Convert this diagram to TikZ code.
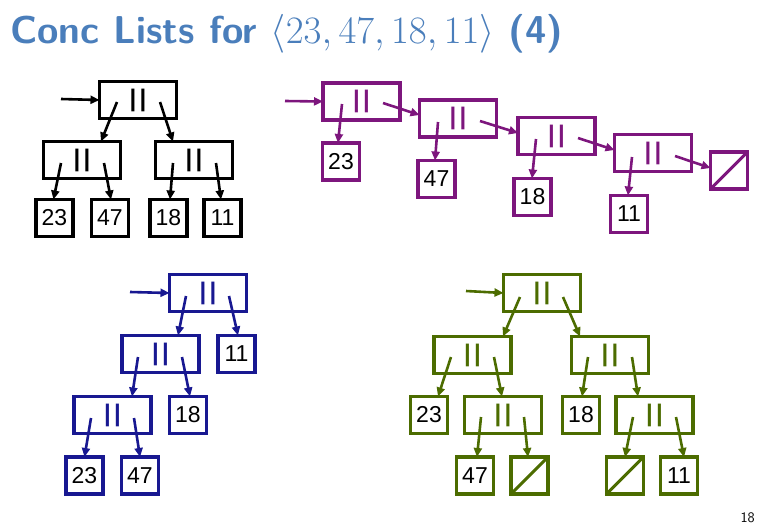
\documentclass[tikz,border=0pt]{standalone}
\usepackage{fontspec}
\newfontfamily\arial{Liberation Sans}
\usetikzlibrary{arrows.meta,calc}
\definecolor{titleblue}{RGB}{74,126,187}
\definecolor{treepurple}{RGB}{125,22,125}
\definecolor{treeblue}{RGB}{24,24,145}
\definecolor{treegreen}{RGB}{76,108,0}
\newcommand{\bars}{\raisebox{-5pt}{\bfseries|\kern3.3pt|}}
\tikzset{
  box/.style={draw, line width=3.1pt, inner sep=0pt, outer sep=0pt,
    font=\arial\fontsize{23}{23}\selectfont},
  innerbox/.style={box, minimum width=77pt, minimum height=37pt,
    font=\arial\fontsize{24}{24}\selectfont},
  leaf/.style={box, text=black, minimum width=37pt, minimum height=37pt},
  nullbox/.style={leaf, path picture={\draw[line width=3.1pt]
    (path picture bounding box.south west) -- (path picture bounding box.north east);}},
  arr/.style={line width=2.6pt, -{Triangle[length=9pt,width=8pt]}}
}
\begin{document}
\begin{tikzpicture}[x=1pt,y=-1pt]
\useasboundingbox (0,0) rectangle (757,525);

\node[anchor=base west, text=titleblue, inner sep=0pt] (title) at (10,43)
  {\scalebox{1.56}{\fontsize{24.88}{30}\selectfont\sffamily\bfseries Conc Lists for $\langle 23, 47, 18, 11\rangle$ (4)}};
\node[anchor=base east, inner sep=0pt, font=\sffamily\fontsize{14.5}{14.5}\selectfont] (pg) at (755,522) {18};

% black tree
\begin{scope}[color=black]
\node[innerbox] (B0) at (138,100) {\bars};
\node[innerbox] (B1) at (82,160) {\bars};
\node[innerbox] (B2) at (194,160) {\bars};
\node[leaf] (B23) at (54.5,218) {23};
\node[leaf] (B47) at (110,218) {47};
\node[leaf] (B18) at (168.5,218) {18};
\node[leaf] (B11) at (222.5,218) {11};
\coordinate (Bin) at (61,99);
\draw[arr] (Bin) -- (B0.west);
\draw[arr] ($(B0)+(-21,2)$) -- ($(B1.north)+(19,0)$);
\draw[arr] ($(B0)+(22,2)$) -- ($(B2.north)+(-21,0)$);
\draw[arr] ($(B1)+(-21,3)$) -- ($(B23.north)+(-1,0)$);
\draw[arr] ($(B1)+(22,3)$) -- ($(B47.north)+(1,0)$);
\draw[arr] ($(B2)+(-21,3)$) -- ($(B18.north)+(1.5,0)$);
\draw[arr] ($(B2)+(22,3)$) -- ($(B11.north)+(-1.5,0)$);
\end{scope}

% purple list
\begin{scope}[color=treepurple]
\node[innerbox] (P1) at (361.5,101.5) {\bars};
\node[innerbox] (P2) at (458,118.5) {\bars};
\node[innerbox] (P3) at (556.5,136) {\bars};
\node[innerbox] (P4) at (653,153) {\bars};
\node[nullbox] (Pn) at (729,170.5) {};
\node[leaf] (PL23) at (341,161.5) {23};
\node[leaf] (PL47) at (436.5,179) {47};
\node[leaf] (PL18) at (532.5,197) {18};
\node[leaf] (PL11) at (629,214) {11};
\coordinate (Pin) at (285,101);
\draw[arr] (Pin) -- (P1.west);
\draw[arr] ($(P1)+(21.5,1.5)$) -- ($(P2.west)+(0,-3.5)$);
\draw[arr] ($(P2)+(22,2.5)$) -- ($(P3.west)+(0,-3)$);
\draw[arr] ($(P3)+(21.5,2)$) -- ($(P4.west)+(0,-3)$);
\draw[arr] ($(P4)+(22,3)$) -- ($(Pn.west)+(0,-2.5)$);
\draw[arr] ($(P1)+(-19.5,2.5)$) -- ($(PL23.north)+(-3,0)$);
\draw[arr] ($(P2)+(-20,3.5)$) -- ($(PL47.north)+(-1.5,0)$);
\draw[arr] ($(P3)+(-20.5,3)$) -- ($(PL18.north)+(-0.5,0)$);
\draw[arr] ($(P4)+(-21,4)$) -- ($(PL11.north)+(-1,0)$);
\end{scope}

% blue tree
\begin{scope}[color=treeblue]
\node[innerbox] (U0) at (208,293) {\bars};
\node[innerbox] (U1) at (160.5,354) {\bars};
\node[innerbox] (U2) at (112.5,415) {\bars};
\node[leaf] (UL11) at (236.5,354) {11};
\node[leaf] (UL18) at (188,415) {18};
\node[leaf] (UL23) at (84.5,475.5) {23};
\node[leaf] (UL47) at (140,475.5) {47};
\coordinate (Uin) at (130,292);
\draw[arr] (Uin) -- (U0.west);
\draw[arr] ($(U0)+(-22,3)$) -- ($(U1.north)+(17.5,0)$);
\draw[arr] ($(U0)+(21,3)$) -- ($(UL11.north)+(1.5,0)$);
\draw[arr] ($(U1)+(-22.5,3)$) -- ($(U2.north)+(19.5,0)$);
\draw[arr] ($(U1)+(21.5,3)$) -- ($(UL18.north)+(2,0)$);
\draw[arr] ($(U2)+(-21.5,3)$) -- (UL23.north);
\draw[arr] ($(U2)+(21.5,3)$) -- (UL47.north);
\end{scope}

% green tree
\begin{scope}[color=treegreen]
\node[innerbox] (G0) at (542,293) {\bars};
\node[innerbox] (G1) at (472.5,355) {\bars};
\node[innerbox] (G2) at (610,355) {\bars};
\node[leaf] (GL23) at (429,415) {23};
\node[innerbox] (G3) at (503,415) {\bars};
\node[leaf] (GL18) at (581,415) {18};
\node[innerbox] (G4) at (654.5,415) {\bars};
\node[leaf] (GL47) at (475,475.5) {47};
\node[nullbox] (GN1) at (529.5,475.5) {};
\node[nullbox] (GN2) at (625,475.5) {};
\node[leaf] (GL11) at (679,475.5) {11};
\coordinate (Gin) at (466,291);
\draw[arr] (Gin) -- (G0.west);
\draw[arr] ($(G0)+(-22,4)$) -- ($(G1.north)+(30.5,0)$);
\draw[arr] ($(G0)+(21,4)$) -- ($(G2.north)+(-30,0)$);
\draw[arr] ($(G1)+(-21.5,2)$) -- ($(GL23.north)+(9,0)$);
\draw[arr] ($(G1)+(21.5,2)$) -- ($(G3.north)+(-1,0)$);
\draw[arr] ($(G2)+(-22,2)$) -- ($(GL18.north)+(1,0)$);
\draw[arr] ($(G2)+(22,2)$) -- ($(G4.north)+(-16.5,0)$);
\draw[arr] ($(G3)+(-22,2)$) -- ($(GL47.north)+(2,0)$);
\draw[arr] ($(G3)+(21,2)$) -- ($(GN1.north)+(-1.5,0)$);
\draw[arr] ($(G4)+(-21.5,2)$) -- (GN2.north);
\draw[arr] ($(G4)+(21.5,2)$) -- ($(GL11.north)+(5,0)$);
\end{scope}
\end{tikzpicture}
\end{document}
